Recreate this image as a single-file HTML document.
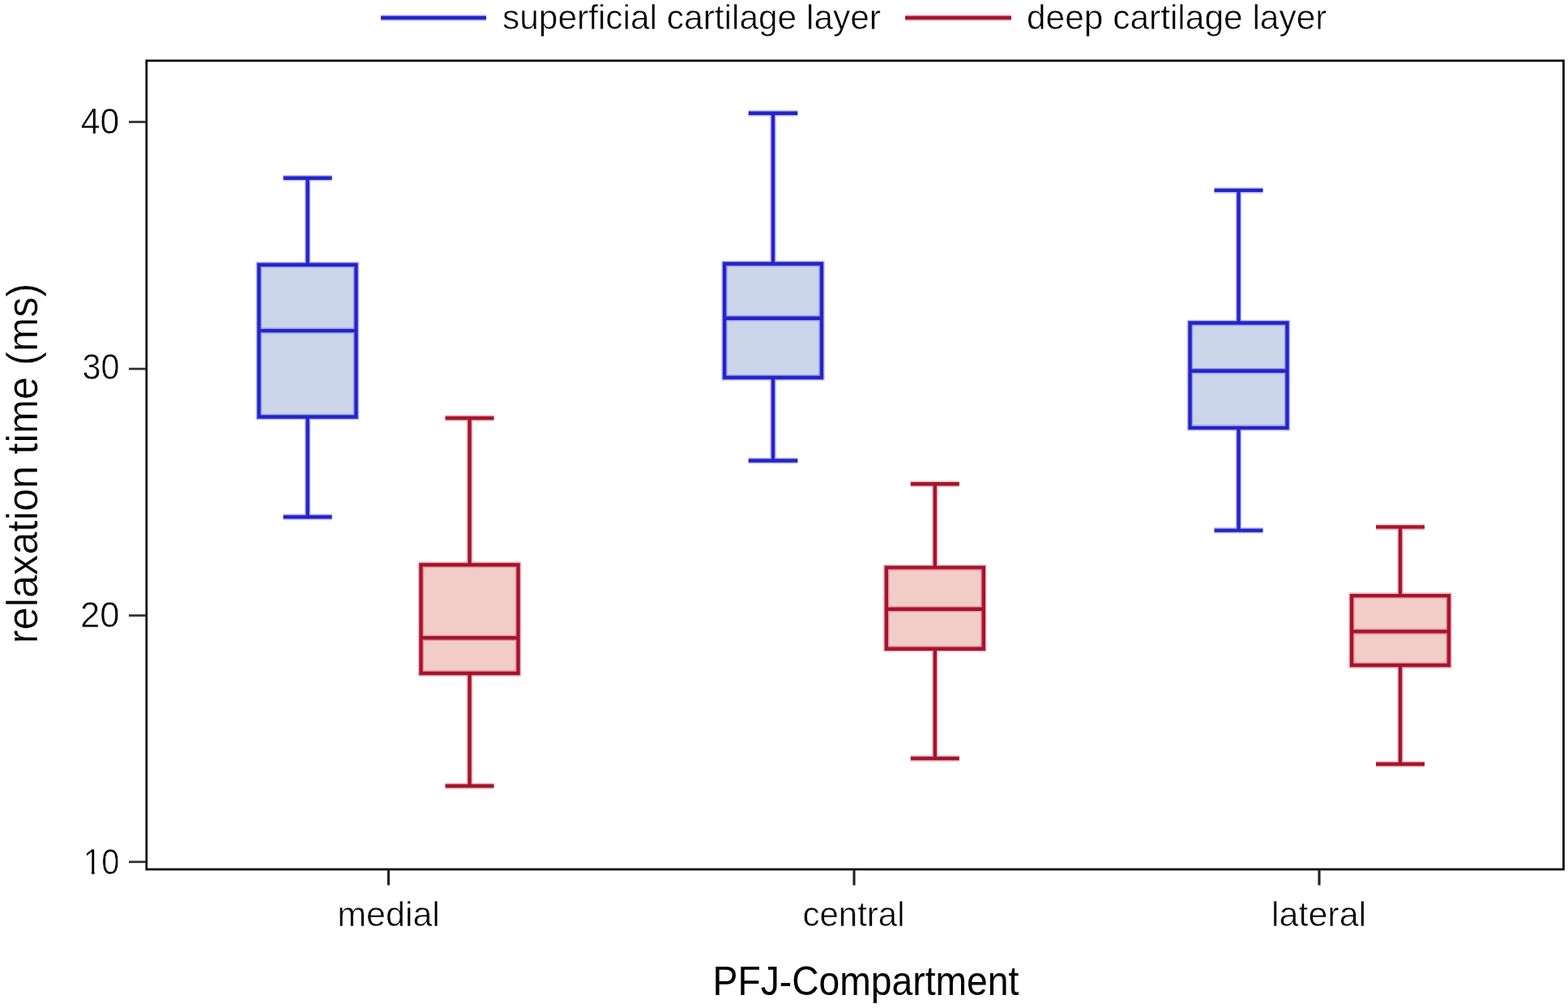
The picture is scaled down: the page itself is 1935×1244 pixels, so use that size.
<!DOCTYPE html>
<html>
<head>
<meta charset="utf-8">
<title>Relaxation time by PFJ compartment</title>
<style>
html,body{margin:0;padding:0;background:#fff;}
body{width:1935px;height:1244px;overflow:hidden;}
svg{display:block;}
text{font-family:"Liberation Sans",Arial,sans-serif;fill:#000;stroke:#fff;stroke-width:0.6px;}
.tt{stroke-width:0.4px;}
.nt{stroke:none;}
</style>
</head>
<body>
<svg width="1935" height="1244" viewBox="0 0 1935 1244">
<rect x="0" y="0" width="1935" height="1244" fill="#fff"/>

<!-- legend -->
<path d="M470 22H600" stroke="rgba(70,70,225,0.35)" stroke-width="7.5" fill="none"/>
<path d="M470 22H600" stroke="#2424c8" stroke-width="4.4" fill="none"/>
<text x="620" y="36.4" font-size="43" textLength="467" lengthAdjust="spacingAndGlyphs">superficial cartilage layer</text>
<path d="M1117 22H1248" stroke="rgba(205,60,85,0.35)" stroke-width="7.5" fill="none"/>
<path d="M1117 22H1248" stroke="#a5142d" stroke-width="4.4" fill="none"/>
<text x="1267" y="36.4" font-size="43" textLength="370.4" lengthAdjust="spacingAndGlyphs">deep cartilage layer</text>

<!-- box fills -->
<rect x="319.5" y="326.8" width="120.0" height="187.7" fill="#cbd5ea"/>
<rect x="519.5" y="697.0" width="120.0" height="134.0" fill="#f2cdc8"/>
<rect x="894.0" y="325.5" width="120.0" height="140.5" fill="#cbd5ea"/>
<rect x="1093.8" y="700.4" width="120.0" height="100.4" fill="#f2cdc8"/>
<rect x="1468.5" y="398.5" width="120.0" height="129.6" fill="#cbd5ea"/>
<rect x="1668.0" y="735.1" width="120.0" height="85.9" fill="#f2cdc8"/>
<!-- box strokes -->
<path d="M379.6 219.7V326.8M379.6 514.5V638.0M349.6 219.7H409.6M349.6 638.0H409.6M319.5 326.8H439.5V514.5H319.5ZM319.5 408.1H439.5M954.0 139.7V325.5M954.0 466.0V568.5M923.7 139.7H984.3M923.7 568.5H984.3M894.0 325.5H1014.0V466.0H894.0ZM894.0 392.7H1014.0M1528.5 234.9V398.5M1528.5 528.1V654.6M1498.5 234.9H1558.5M1498.5 654.6H1558.5M1468.5 398.5H1588.5V528.1H1468.5ZM1468.5 457.7H1588.5" stroke="rgba(70,70,225,0.35)" stroke-width="7.5" fill="none"/>
<path d="M579.5 516.0V697.0M579.5 831.0V970.0M549.5 516.0H609.5M549.5 970.0H609.5M519.5 697.0H639.5V831.0H519.5ZM519.5 787.2H639.5M1153.8 597.3V700.4M1153.8 800.8V936.0M1123.8 597.3H1183.8M1123.8 936.0H1183.8M1093.8 700.4H1213.8V800.8H1093.8ZM1093.8 751.8H1213.8M1728.0 650.4V735.1M1728.0 821.0V943.0M1698.0 650.4H1758.0M1698.0 943.0H1758.0M1668.0 735.1H1788.0V821.0H1668.0ZM1668.0 779.4H1788.0" stroke="rgba(205,60,85,0.35)" stroke-width="7.5" fill="none"/>
<path d="M379.6 219.7V326.8M379.6 514.5V638.0M349.6 219.7H409.6M349.6 638.0H409.6M319.5 326.8H439.5V514.5H319.5ZM319.5 408.1H439.5M954.0 139.7V325.5M954.0 466.0V568.5M923.7 139.7H984.3M923.7 568.5H984.3M894.0 325.5H1014.0V466.0H894.0ZM894.0 392.7H1014.0M1528.5 234.9V398.5M1528.5 528.1V654.6M1498.5 234.9H1558.5M1498.5 654.6H1558.5M1468.5 398.5H1588.5V528.1H1468.5ZM1468.5 457.7H1588.5" stroke="#2424c8" stroke-width="4.4" fill="none"/>
<path d="M579.5 516.0V697.0M579.5 831.0V970.0M549.5 516.0H609.5M549.5 970.0H609.5M519.5 697.0H639.5V831.0H519.5ZM519.5 787.2H639.5M1153.8 597.3V700.4M1153.8 800.8V936.0M1123.8 597.3H1183.8M1123.8 936.0H1183.8M1093.8 700.4H1213.8V800.8H1093.8ZM1093.8 751.8H1213.8M1728.0 650.4V735.1M1728.0 821.0V943.0M1698.0 650.4H1758.0M1698.0 943.0H1758.0M1668.0 735.1H1788.0V821.0H1668.0ZM1668.0 779.4H1788.0" stroke="#a5142d" stroke-width="4.4" fill="none"/>

<!-- frame -->
<rect x="180.8" y="74.9" width="1748.7" height="998" fill="none" stroke="#000" stroke-width="2.7"/>

<!-- y ticks -->
<g stroke="#333" stroke-width="2.8">
  <line x1="159" y1="150.5" x2="180" y2="150.5"/>
  <line x1="159" y1="455.2" x2="180" y2="455.2"/>
  <line x1="159" y1="759.6" x2="180" y2="759.6"/>
  <line x1="159" y1="1063.7" x2="180" y2="1063.7"/>
</g>
<!-- x ticks -->
<g stroke="#222" stroke-width="3.1">
  <line x1="479.4" y1="1073" x2="479.4" y2="1092.5"/>
  <line x1="1054" y1="1073" x2="1054" y2="1092.5"/>
  <line x1="1628" y1="1073" x2="1628" y2="1092.5"/>
</g>

<!-- y tick labels -->
<g font-size="44" text-anchor="end">
  <text x="147.3" y="165.2" textLength="47.5" lengthAdjust="spacingAndGlyphs">40</text>
  <text x="147.5" y="468.3" textLength="46.1" lengthAdjust="spacingAndGlyphs">30</text>
  <text x="147.5" y="773.6" textLength="48.6" lengthAdjust="spacingAndGlyphs">20</text>
  <text x="147.3" y="1079" textLength="44.3" lengthAdjust="spacingAndGlyphs">10</text>
</g>

<!-- Arial-style "1" without foot -->
<rect x="105" y="1074.6" width="8" height="5" fill="#fff"/>
<rect x="116.6" y="1074.6" width="8" height="5" fill="#fff"/>

<!-- x tick labels -->
<g font-size="43" text-anchor="middle">
  <text x="479.6" y="1142.5">medial</text>
  <text x="1053.5" y="1142.5" textLength="126.2" lengthAdjust="spacingAndGlyphs">central</text>
  <text x="1627.6" y="1142.5">lateral</text>
</g>

<!-- axis titles -->
<text class="nt" x="1068.5" y="1228.2" font-size="50" text-anchor="middle" textLength="377.9" lengthAdjust="spacingAndGlyphs">PFJ-Compartment</text>
<text class="tt" transform="translate(45.8,572) rotate(-90)" font-size="53" text-anchor="middle" textLength="444.7" lengthAdjust="spacingAndGlyphs">relaxation time (ms)</text>
</svg>
</body>
</html>
